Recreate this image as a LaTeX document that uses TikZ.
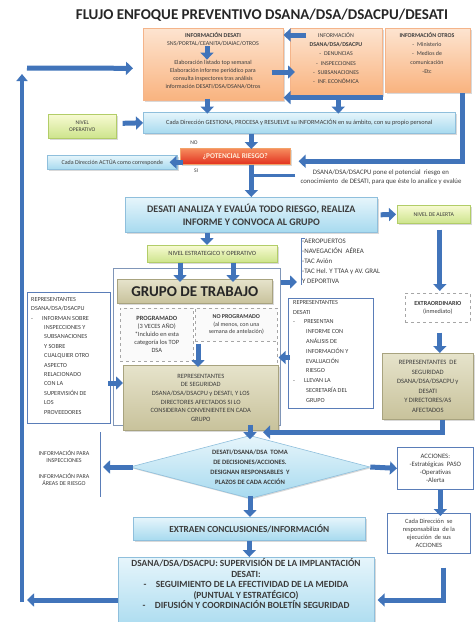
\documentclass[tikz,border=0pt]{standalone}
\usepackage{fontspec}
\setmainfont{Carlito}
\usetikzlibrary{arrows.meta,shapes.geometric,calc,shadows}
\definecolor{arr}{HTML}{4174BA}
\definecolor{orT}{HTML}{FDE4D0}
\definecolor{orB}{HTML}{F9B37F}
\definecolor{orD}{HTML}{F4B48A}
\definecolor{blT}{HTML}{E6F5FB}
\definecolor{blB}{HTML}{A7DAEF}
\definecolor{blD}{HTML}{8FBFDC}
\definecolor{grT}{HTML}{F7FAD2}
\definecolor{grB}{HTML}{CDE48C}
\definecolor{grD}{HTML}{B2CD68}
\definecolor{khT}{HTML}{E6E3CB}
\definecolor{khB}{HTML}{C8C29B}
\definecolor{khD}{HTML}{A8A37F}
\definecolor{frm}{HTML}{5A7DB8}
\definecolor{frg}{HTML}{8096B8}
\definecolor{txt}{HTML}{3C3C3C}
\definecolor{rdT}{HTML}{F68D5E}
\definecolor{rdB}{HTML}{E2311F}
\definecolor{rdD}{HTML}{F2A36A}
\newcommand\fsA{\fontsize{6}{8}\selectfont}
\newcommand\fsB{\fontsize{6.2}{9.4}\selectfont}
\newcommand\fsC{\fontsize{5.6}{7}\selectfont}
\begin{document}
\begin{tikzpicture}[x=1pt,y=-1pt,
  every node/.style={text=txt, inner sep=1pt},
  box/.style={draw, align=center, line width=0.6pt, anchor=north west},
  shd/.style={drop shadow={shadow xshift=1.2pt, shadow yshift=-1.2pt, opacity=0.3}},
  obox/.style={box, shd, draw=orD, top color=orT, bottom color=orB},
  bbox/.style={box, shd, draw=blD, top color=blT, bottom color=blB},
  gbox/.style={box, shd, draw=grD, top color=grT, bottom color=grB},
  kbox/.style={box, shd, draw=khD, top color=khT, bottom color=khB},
  rbox/.style={box, shd, draw=rdD, top color=rdT, bottom color=rdB},
  wbox/.style={box, draw=frm, fill=white, line width=1pt},
  dbox/.style={box, draw=gray!70, dashed, fill=gray!4},
  barrow/.style={draw=arr, line width=5pt, line join=miter, -{Triangle[length=7pt,width=13pt]}},
  bline/.style={draw=arr, line width=2.5pt},
]
\useasboundingbox (0,0) rectangle (476,622);

% title
\node[font=\bfseries\fontsize{15}{17}\selectfont, text=black!85] (title) at (262,15) {FLUJO ENFOQUE PREVENTIVO DSANA/DSA/DSACPU/DESATI};

% top boxes
\node[obox, minimum width=140pt, minimum height=72pt] (b1) at (143,28) {};
\node[font=\fsA, align=center] (b1h) at (213,39) {\textbf{INFORMACIÓN DESATI}\\SNS/PORTAL/CEANITA/DIAIAC/OTROS};
\node[font=\fsA, align=center] (b1b) at (213,75) {Elaboración listado top semanal\\Elaboración informe periódico para\\consulta inspectores tras análisis\\información DESATI/DSA/DSANA/Otros};

\node[obox, minimum width=92pt, minimum height=67pt] (b2) at (290,28) {};
\node[font=\fontsize{5.9}{9.3}\selectfont, align=center] (b2t) at (336,58) {INFORMACIÓN\\\textbf{DSANA/DSA/DSACPU}\\-\enspace DENUNCIAS\\-\enspace INSPECCIONES\\-\enspace SUBSANACIONES\\-\enspace INF. ECONÓMICA};

\node[obox, minimum width=85pt, minimum height=64pt] (b3) at (385,28) {};
\node[font=\fontsize{5.9}{9}\selectfont, align=center] (b3t) at (427,53) {\textbf{INFORMACIÓN OTROS}\\-\enspace Ministerio\\-\enspace Medios de\\comunicación\\-Etc};

% operative level
\node[gbox, minimum width=68pt, minimum height=24pt, font=\fsC] (nop) at (48,114) {NIVEL\\OPERATIVO};
\node[bbox, minimum width=312pt, minimum height=21pt, font=\fontsize{6.3}{7}\selectfont] (ges) at (143,112) {Cada Dirección GESTIONA, PROCESA y RESUELVE su INFORMACIÓN en su ámbito, con su propio personal};

\node[bbox, minimum width=130pt, minimum height=14pt, font=\fontsize{6}{6.5}\selectfont] (actua) at (47,155) {Cada Dirección ACTÚA como corresponde};
\node[rbox, minimum width=110pt, minimum height=16pt, font=\bfseries\fontsize{7.3}{8}\selectfont, text=orange!15] (riesgo) at (180,148) {¿POTENCIAL RIESGO?};
\node[font=\fsC] (nolab) at (194,143) {NO};
\node[font=\fsC] (silab) at (196,171) {SI};
\node[font=\fontsize{6.8}{9}\selectfont, align=center] (dsanat) at (381,177.5) {DSANA/DSA/DSACPU pone el potencial\ \ riesgo en\\conocimiento\ \ de DESATI, para que éste lo analice y evalúe};

% analysis
\node[bbox, minimum width=252pt, minimum height=35pt, font=\bfseries\fontsize{10}{13}\selectfont] (desati) at (125,197) {DESATI ANALIZA Y EVALÚA TODO RIESGO, REALIZA\\INFORME Y CONVOCA AL GRUPO};
\node[gbox, minimum width=73pt, minimum height=18pt, font=\fontsize{5.8}{7}\selectfont] (nalerta) at (397,205) {NIVEL DE ALERTA};
\node[gbox, minimum width=130pt, minimum height=17pt, font=\fontsize{6.4}{7}\selectfont] (nest) at (147,245) {NIVEL ESTRATEGICO Y OPERATIVO};

% group
\node[box, draw=frg, line width=1.4pt, minimum width=167pt, minimum height=157pt] (frame) at (113,268) {};
\node[kbox, minimum width=155pt, minimum height=24pt, font=\bfseries\fontsize{15}{16}\selectfont, text=black!85] (gtitle) at (117,279) {GRUPO DE TRABAJO};
\node[dbox, minimum width=73pt, minimum height=53pt, font=\fontsize{6.4}{8}\selectfont] (prog) at (120,308) {\textbf{PROGRAMADO}\\(3 VECES AÑO)\\*Incluido en esta\\categoría los TOP\\DSA};
\node[dbox, minimum width=82pt, minimum height=33pt, font=\fontsize{6}{7.5}\selectfont] (noprog) at (195,308) {\textbf{NO PROGRAMADO}\\(al menos, con una\\semana de antelación)};
\node[kbox, minimum width=155pt, minimum height=65pt, font=\fontsize{6.5}{8.6}\selectfont] (reps) at (123,365) {REPRESENTANTES\\DE SEGURIDAD\\DSANA/DSA/DSACPU y DESATI, Y LOS\\DIRECTORES AFECTADOS SI LO\\CONSIDERAN CONVENIENTE EN CADA\\GRUPO};

\node[wbox, minimum width=83pt, minimum height=131pt] (lrep) at (27,292) {};
\node[anchor=north west, align=left, font=\fsB] (lrept) at (30,296) {REPRESENTANTES\\DSANA/DSA/DSACPU\\-\hspace{9pt}INFORMAN SOBRE\\\hspace*{13pt}INSPECCIONES Y\\\hspace*{13pt}SUBSANACIONES\\\hspace*{13pt}Y SOBRE\\\hspace*{13pt}CUALQUIER OTRO\\\hspace*{13pt}ASPECTO\\\hspace*{13pt}RELACIONADO\\\hspace*{13pt}CON LA\\\hspace*{13pt}SUPERVISIÓN DE\\\hspace*{13pt}LOS\\\hspace*{13pt}PROVEEDORES};

\node[anchor=north west, align=left, font=\fontsize{6.9}{10}\selectfont] (aero) at (301,238) {-AEROPUERTOS\\-NAVEGACIÓN\ \ AÉREA\\-TAC Avión\\-TAC Hel. Y TTAA y AV. GRAL\\Y DEPORTIVA};

\node[wbox, minimum width=85pt, minimum height=110pt] (drep) at (288,298) {};
\node[anchor=north west, align=left, font=\fontsize{6.2}{9.8}\selectfont] (drept) at (292,299) {REPRESENTANTES\\DESATI\\-\hspace{9pt}PRESENTAN\\\hspace*{13pt}INFORME CON\\\hspace*{13pt}ANÁLISIS DE\\\hspace*{13pt}INFORMACIÓN Y\\\hspace*{13pt}EVALUACIÓN\\\hspace*{13pt}RIESGO\\-\hspace{9pt}LLEVAN LA\\\hspace*{13pt}SECRETARÍA DEL\\\hspace*{13pt}GRUPO};

\node[box, draw=gray!70, dashed, fill=white, minimum width=65pt, minimum height=29pt, font=\fontsize{6.2}{8}\selectfont] (extra) at (405,293) {\textbf{EXTRAORDINARIO}\\(inmediato)};
\node[kbox, minimum width=91pt, minimum height=66pt, font=\fontsize{6.6}{9.6}\selectfont] (rdesati) at (382,353) {REPRESENTANTES\ \ DE\\SEGURIDAD\\DSANA/DSA/DSACPU y\\DESATI\\Y DIRECTORES/AS\\AFECTADOS};

% decision
\node[diamond, shd, draw=blD, line width=0.6pt, top color=blT, bottom color=blB, minimum width=240pt, minimum height=63pt, aspect=3.8, inner sep=0pt, align=center, font=\bfseries\fontsize{6.6}{10}\selectfont] (diam) at (250,467) {DESATI/DSANA/DSA\ \ TOMA\\DE DECISIONES/ACCIONES.\\DESIGNAN RESPONSABLES\ \ Y\\PLAZOS DE CADA ACCIÓN};
\node[font=\fontsize{6}{7.4}\selectfont, align=center] (linfo) at (64,468) {INFORMACIÓN PARA\\INSPECCIONES\\[8pt]INFORMACIÓN PARA\\ÁREAS DE RIESGO};
\coordinate (brt) at (100,432);
\coordinate (brb) at (100,497);
\node[wbox, line width=0.7pt, minimum width=76pt, minimum height=42pt, font=\fontsize{6.7}{8}\selectfont] (acc) at (397,447) {ACCIONES:\\-Estratégicas\ \ PASO\\-Operativas\\-Alerta};
\node[wbox, line width=0.7pt, minimum width=83pt, minimum height=40pt, font=\fontsize{6.4}{8}\selectfont] (cada2) at (387,513) {Cada Dirección\ \ se\\responsabiliza\ \ de la\\ejecución\ \ de sus\\ACCIONES};

\node[bbox, minimum width=232pt, minimum height=23pt, font=\bfseries\fontsize{9.3}{10}\selectfont] (extraen) at (133,517) {EXTRAEN CONCLUSIONES/INFORMACIÓN};
\node[bbox, minimum width=256pt, minimum height=75pt] (sup) at (118,557) {};
\node[align=center, font=\bfseries\fontsize{9.4}{10.5}\selectfont] (supt) at (246,584) {DSANA/DSA/DSACPU: SUPERVISIÓN DE LA IMPLANTACIÓN\\DESATI:\\-\quad SEGUIMIENTO DE LA EFECTIVIDAD DE LA MEDIDA\\(PUNTUAL Y ESTRATÉGICO)\\-\quad DIFUSIÓN Y COORDINACIÓN BOLETÍN SEGURIDAD};

\coordinate (rtop) at (462,93);
\coordinate (lb) at (22,602);
\coordinate (lt) at (22,74);

% ---------- connectors ----------
\draw[barrow] ($(b2.north west)+(16,7)$) -- ($(b1.north east)+(0,7)$);
\draw[barrow] ($(b1h.south)+(-6,-1)$) -- ($(b1b.north)+(-6,0)$);
\draw[barrow] ($(b1.north east)+(-12,44)$) -- ($(b2.north west)+(5,44)$);
\draw[barrow] ($(b2.south east)+(0,2)$) -- ($(b1.south east)+(0,-3)$);
\draw[barrow] ($(b1.south)+(-6,-2)$) -- ($(b1.south)+(-6,13)$);
\draw[barrow] ($(b2.south)+(2,2)$) -- ($(b2.south)+(2,18)$);
\draw[barrow] ($(nop.east)+(6,-3)$) -- (ges.west);
\draw[barrow] (ges.south -| desati.north) -- ($(riesgo.north -| desati.north)+(0,1)$);
\draw[barrow] ($(riesgo.west |- actua.east)+(3,0)$) -- ($(actua.east)+(-8,0)$);
\draw[barrow] (rtop) |- ($(riesgo.east)+(8,5)$);
\draw[barrow] (riesgo.south -| desati.north) -- (desati.north);
\draw[bline] ($(dsanat.west)+(-4,-2)$) -- ($(dsanat.west -| desati.north)+(2,-2)$);
\draw[barrow] ($(desati.east)+(3,0)$) -- ($(nalerta.west)+(-1,0)$);
\draw[barrow] ($(desati.south west)+(82,0)$) -- ($(nest.north west)+(60,0)$);
\draw[barrow] ($(nest.south west)+(33,0)$) -- ($(gtitle.north west)+(63,3)$);
\draw[barrow] ($(nest.south west)+(86,0)$) -- ($(gtitle.north west)+(116,3)$);
\draw[gray!70, dashed, line width=0.6pt] (noprog.south east) -- (noprog.south east |- reps.north);
\draw[barrow] ($(noprog.south west)+(3,2)$) -- ($(noprog.south west |- reps.north)+(3,2)$);
\draw[barrow] ($(lrep.north east)+(-3,91)$) -- ($(reps.north west)+(0,18)$);
\draw[frm, line width=0.7pt] ($(aero.north west)+(4,0)$) -- (aero.north west) -- (aero.south west);
\draw[barrow] ($(frame.north east)+(0,14)$) -- ($(aero.west |- frame.north east)+(-4,14)$);
\draw[barrow] ($(drep.west)+(2,4)$) -- ($(drep.west -| reps.east)+(0,4)$);
\draw[barrow] ($(nalerta.south)+(6,6)$) -- ($(extra.north)+(2,-2)$);
\draw[barrow] ($(extra.south)+(2,10)$) -- ($(rdesati.north)+(12,0)$);
\draw[barrow] ($(rdesati.south)+(15,0)$) |- ($(diam.north)+(13,-3)$);
\draw[barrow] ($(reps.south -| diam.north)+(0,-6)$) -- ($(diam.north)+(0,4)$);
\draw[frm, line width=0.7pt] (brt) -- (brb);
\draw[barrow] ($(diam.west)+(3,0)$) -- ($(diam.west -| brt)+(3,0)$);
\draw[barrow] (diam.east) -- (acc.west);
\draw[barrow] ($(acc.south)+(5,0)$) -- ($(acc.south |- cada2.north)+(5,3)$);
\draw[barrow] ($(cada2.south east)+(-27,14)$) |- ($(sup.north east)+(3,43)$);
\draw[barrow] ($(diam.south)+(0,-3)$) -- (diam.south |- extraen.north);
\draw[barrow] (extraen.south) -- (extraen.south |- sup.north);
\draw[barrow] ($(sup.north west)+(0,43)$) -- ($(lb)+(5,-2)$);
\draw[draw=arr, line width=4pt, -{Triangle[length=7pt,width=11pt]}] (lb) -- (lt);
\draw[barrow] ($(lt)+(5,-6)$) -- ($(b1.west)+(-10,4)$);
\end{tikzpicture}
\end{document}
